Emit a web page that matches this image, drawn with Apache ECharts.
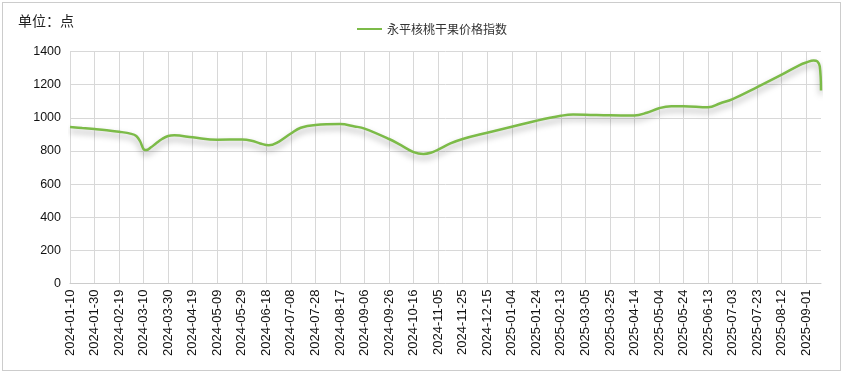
<!DOCTYPE html>
<html>
<head>
<meta charset="utf-8">
<script src="https://cdn.jsdelivr.net/npm/echarts@6/dist/echarts.min.js"></script>
<style>
  html, body { margin: 0; padding: 0; background: #fff; }
  #frame { position: absolute; left: 2px; top: 2px; width: 837px; height: 367px; border: 1px solid #cccccc; }
  #chart { position: absolute; left: 0; top: 0; width: 843px; height: 373px; }
</style>
</head>
<body>
<div id="frame"></div>
<div id="chart"></div>
<script>
// Axis range (daily categories)
var startDate = '2024-01-10';
var endDate = '2025-09-13';
var seriesName = '永平核桃干果价格指数';
var unitLabel = '单位：点';
var yTicks = [0, 200, 400, 600, 800, 1000, 1200, 1400];

var sampleDates = [
  '2024-01-10','2024-01-20','2024-01-30','2024-02-09','2024-02-19','2024-02-29','2024-03-04','2024-03-07',
  '2024-03-10','2024-03-12','2024-03-16','2024-03-20','2024-03-25','2024-03-30','2024-04-04','2024-04-19',
  '2024-05-09','2024-05-29','2024-06-06','2024-06-13','2024-06-20','2024-06-28','2024-07-08','2024-07-16',
  '2024-07-28','2024-08-17','2024-08-29','2024-09-06','2024-09-26','2024-10-06','2024-10-16','2024-10-24',
  '2024-10-30','2024-11-05','2024-11-15','2024-11-25','2024-12-15','2025-01-04','2025-01-24','2025-02-13',
  '2025-02-23','2025-03-05','2025-03-25','2025-04-14','2025-04-24','2025-05-04','2025-05-14','2025-05-24',
  '2025-06-13','2025-06-23','2025-07-03','2025-07-23','2025-08-12','2025-08-27','2025-09-01','2025-09-07',
  '2025-09-10','2025-09-12','2025-09-13'
];
var sampleValues = [
  945, 938, 932, 925, 916, 903, 890, 860,
  810, 805, 822, 845, 872, 890, 894, 882,
  868, 869, 862, 845, 834, 855, 905, 940,
  957, 962, 948, 935, 872, 833, 793, 782,
  789, 808, 845, 872, 910, 946, 982, 1012,
  1020, 1019, 1015, 1014, 1030, 1058, 1070, 1070,
  1063, 1088, 1113, 1185, 1260, 1320, 1334, 1346,
  1340, 1310, 1165
];

function pad(n) { return n < 10 ? '0' + n : '' + n; }
function buildDays(a, b) {
  var out = [];
  var p = a.split('-'), q = b.split('-');
  var d = Date.UTC(+p[0], +p[1] - 1, +p[2]);
  var e = Date.UTC(+q[0], +q[1] - 1, +q[2]);
  while (d <= e) {
    var dt = new Date(d);
    out.push(dt.getUTCFullYear() + '-' + pad(dt.getUTCMonth() + 1) + '-' + pad(dt.getUTCDate()));
    d += 86400000;
  }
  return out;
}
var categories = buildDays(startDate, endDate);
var seriesData = sampleDates.map(function (d, i) { return [d, sampleValues[i]]; });

var chart = echarts.init(document.getElementById('chart'), null, { renderer: 'canvas' });
chart.setOption({
  animation: false,
  backgroundColor: 'transparent',
  title: {
    text: unitLabel,
    left: 13, top: 9,
    textStyle: { fontSize: 14, fontWeight: 'normal', color: '#222', fontFamily: 'Noto Sans CJK SC, sans-serif' }
  },
  legend: {
    data: [seriesName],
    left: 352, top: 18,
    icon: 'rect',
    itemWidth: 25, itemHeight: 2, itemGap: 10,
    textStyle: { fontSize: 12, color: '#333', fontFamily: 'Noto Sans CJK SC, sans-serif' }
  },
  grid: { left: 70, right: 22, top: 51.5, bottom: 89.5, containLabel: false },
  xAxis: {
    type: 'category',
    data: categories,
    boundaryGap: false,
    axisLine: { show: true, lineStyle: { color: '#cccccc' } },
    axisTick: { show: false },
    axisLabel: {
      interval: 19, rotate: 90, fontSize: 13, color: '#111', margin: 6,
      fontFamily: 'Liberation Sans, Arial, sans-serif'
    },
    splitLine: { show: true, interval: 19, lineStyle: { color: '#d8d8d8' } }
  },
  yAxis: {
    type: 'value',
    min: yTicks[0], max: yTicks[yTicks.length - 1], interval: 200,
    axisLine: { show: false },
    axisTick: { show: false },
    axisLabel: {
      fontSize: 12.5, color: '#111', margin: 9, fontFamily: 'Liberation Sans, Arial, sans-serif',
      formatter: function (v) { return String(v); }
    },
    splitLine: { show: true, lineStyle: { color: '#d8d8d8' } }
  },
  series: [{
    name: seriesName,
    type: 'line',
    data: seriesData,
    smooth: 0.4,
    showSymbol: false,
    symbol: 'none',
    color: '#7cbb48',
    lineStyle: {
      width: 2.5, color: '#7cbb48',
      shadowColor: 'rgba(0,0,0,0.35)', shadowBlur: 6, shadowOffsetY: 4
    }
  }]
});
</script>
</body>
</html>
